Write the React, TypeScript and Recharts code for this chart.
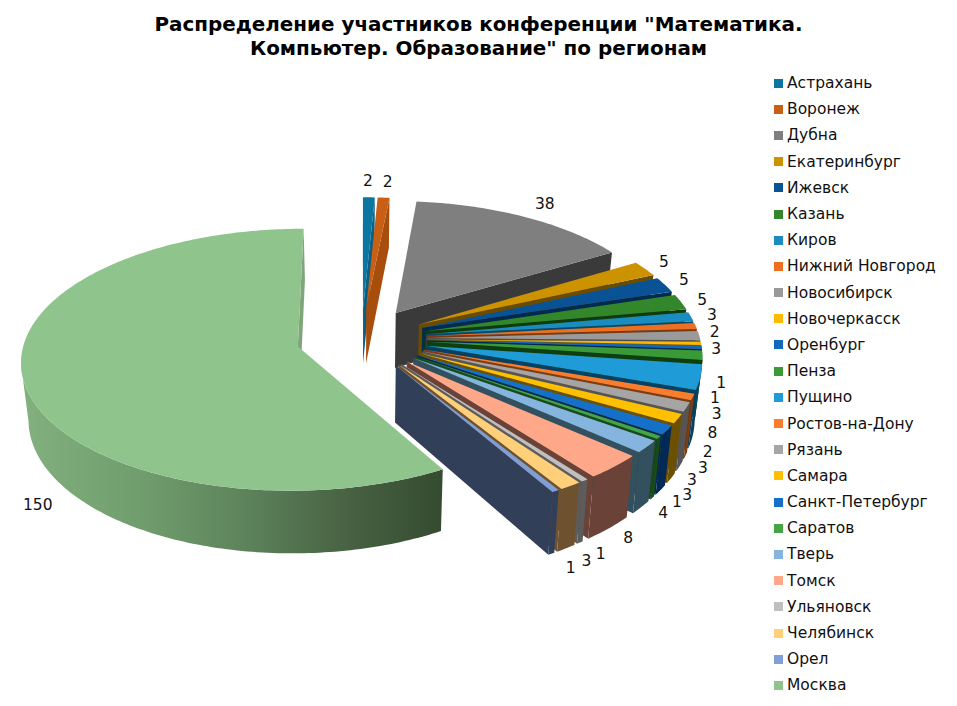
import { Cell, Legend, Pie, PieChart } from "recharts";

const regions = [
  "Астрахань", "Воронеж", "Дубна", "Екатеринбург", "Ижевск", "Казань", "Киров", "Нижний Новгород",
  "Новосибирск", "Новочеркасск", "Оренбург", "Пенза", "Пущино", "Ростов-на-Дону", "Рязань", "Самара",
  "Санкт-Петербург", "Саратов", "Тверь", "Томск", "Ульяновск", "Челябинск", "Орел", "Москва",
];
const participants = [2, 2, 38, 5, 5, 5, 3, 2, 3, 1, 1, 3, 8, 2, 3, 3, 3, 1, 4, 8, 1, 3, 1, 150];
const topColors = [
  "#0b76a0", "#c85f14", "#7f7f7f", "#cc9200", "#0a5296", "#33872a", "#1a8cc0", "#ed7020",
  "#9a9a9a", "#ffb900", "#1168bf", "#3a9a38", "#1f9bd8", "#fb7d2b", "#a5a5a5", "#ffc000",
  "#1470c8", "#45a545", "#85b5df", "#ffa789", "#bfbfbf", "#ffcf7a", "#7f9fd6", "#90c48d",
];
const wallColors = [
  "#0a5f82", "#a84e0d", "#3a3a3a", "#6a4c00", "#002a50", "#0f3c0a", "#07486a", "#7a3a10",
  "#4f4f4f", "#7a5800", "#002750", "#0f3f0c", "#084060", "#7e3c10", "#555555", "#6c5000",
  "#002a55", "#1a4a1a", "#33505f", "#6b4237", "#5c5c5c", "#6e5230", "#323f58", "#7ea67a",
];

const chartData = regions.map((name, i) => ({ name, value: participants[i] }));

// label placement relative to the slice's outer edge (Excel's placement isn't radial)
const labelNudge = [
  [-1, -16], [4, -16], [20, -13], [19, -7], [19, -5], [21, -2], [21, -2], [19, 6],
  [17, 13], [20, 40], [13, 51], [14, 59], [12, 56], [15, 55], [16, 61], [14, 61],
  [20, 65], [18, 64], [16, 66], [14, 71], [16, 74], [16, 75], [15, 77], [14, 124],
];

// 3D look: tilt + perspective + explode, all in units of the pie radius
const TILT = 0.469;
const PERSPECTIVE = 0.1;
const EXPLODE = 0.24;
const DEPTH = 56;
const BOTTOM_SHRINK = 0.978;

type Pt = { x: number; y: number };

function project(cx: number, cy: number, R: number, theta: number, mid: number, r: number): Pt & { p: number } {
  const u = r * Math.sin(theta) + EXPLODE * Math.sin(mid);
  const v = r * Math.cos(theta) + EXPLODE * Math.cos(mid);
  const p = 1 / (1 + PERSPECTIVE * v);
  return { x: cx + R * u * p, y: cy - R * TILT * v * p, p };
}

const toTheta = (deg: number) => ((90 - deg) * Math.PI) / 180;
const toPath = (pts: Pt[]) =>
  "M" + pts.map((q) => `${q.x.toFixed(2)},${q.y.toFixed(2)}`).join("L") + "Z";

function Slice3D(props: any) {
  const { cx, cy, outerRadius, startAngle, endAngle, index, fill } = props;
  const t0 = toTheta(startAngle);
  const t1 = toTheta(endAngle);
  const mid = (t0 + t1) / 2;
  const steps = Math.max(2, Math.ceil(Math.abs(endAngle - startAngle)));
  const arc: (Pt & { p: number })[] = [];
  for (let s = 0; s <= steps; s++) {
    arc.push(project(cx, cy, outerRadius, t0 + ((t1 - t0) * s) / steps, mid, 1));
  }
  const apex = project(cx, cy, outerRadius, mid, mid, 0);
  const drop = (q: Pt & { p: number }): Pt => ({
    x: cx + (q.x - cx) * BOTTOM_SHRINK,
    y: q.y + DEPTH * q.p,
  });
  const wall = wallColors[index];
  const first = arc[0];
  const last = arc[arc.length - 1];

  const front = arc.slice(1).map((q, i) => q.x < arc[i].x);
  const a = front.indexOf(true);
  const b = front.lastIndexOf(true);
  const arcWall = a >= 0 ? arc.slice(a, b + 2) : [];

  return (
    <g>
      {index === participants.length - 1 && (
        <defs>
          <linearGradient id="moscowWall" gradientUnits="userSpaceOnUse" x1={22} y1={0} x2={440} y2={0}>
            <stop offset="0%" stopColor="#82b07e" />
            <stop offset="30%" stopColor="#6f9c6c" />
            <stop offset="55%" stopColor="#5c815a" />
            <stop offset="80%" stopColor="#465f40" />
            <stop offset="100%" stopColor="#364c31" />
          </linearGradient>
        </defs>
      )}
      <path d={toPath([last, apex, drop(apex), drop(last)])} fill={wall} />
      {first.x < apex.x && <path d={toPath([apex, first, drop(first), drop(apex)])} fill={wall} />}
      {arcWall.length > 0 && (
        <path
          d={toPath([...arcWall, ...arcWall.map(drop).reverse()])}
          fill={index === participants.length - 1 ? "url(#moscowWall)" : wall}
        />
      )}
      <path d={toPath([apex, ...arc])} fill={fill} />
    </g>
  );
}

function ValueLabel(props: any) {
  const { cx, cy, outerRadius, midAngle, value, index } = props;
  const mid = toTheta(midAngle);
  const at = project(cx, cy, outerRadius, mid, mid, 1);
  const [dx, dy] = labelNudge[index];
  return (
    <text
      x={at.x + dx}
      y={at.y + dy}
      textAnchor="middle"
      dominantBaseline="central"
      fontFamily="'DejaVu Sans'"
      fontSize={15.5}
      fill="#111"
    >
      {value}
    </text>
  );
}

function RegionLegend({ payload }: any) {
  return (
    <div style={{ fontFamily: "'DejaVu Sans'", fontSize: 15.5, color: "#111" }}>
      {(payload || []).map((entry: any) => (
        <div key={entry.value} style={{ height: 26.2, display: "flex", alignItems: "center" }}>
          <span style={{ width: 9, height: 9, background: entry.color, marginRight: 4 }} />
          <span style={{ whiteSpace: "nowrap" }}>{entry.value}</span>
        </div>
      ))}
    </div>
  );
}

export default function App() {
  return (
    <div style={{ position: "absolute", left: 0, top: 0, width: 957, height: 706, background: "#fff" }}>
      <div
        style={{
          position: "absolute",
          left: 0,
          top: 13,
          width: 957,
          textAlign: "center",
          fontFamily: "'DejaVu Sans'",
          fontWeight: "bold",
          fontSize: 19.9,
          lineHeight: "24px",
          color: "#000",
        }}
      >
        Распределение участников конференции "Математика.
        <br />
        Компьютер. Образование" по регионам
      </div>
      <PieChart width={957} height={706} margin={{ top: 0, right: 0, bottom: 0, left: 0 }}>
        <Pie
          data={chartData}
          dataKey="value"
          nameKey="name"
          cx={361.5}
          cy={338.5}
          outerRadius={273}
          startAngle={90}
          endAngle={-270}
          stroke="none"
          shape={Slice3D}
          label={ValueLabel}
          labelLine={false}
          isAnimationActive={false}
        >
          {chartData.map((d, i) => (
            <Cell key={d.name} fill={topColors[i]} />
          ))}
        </Pie>
        <Legend
          layout="vertical"
          itemSorter={null}
          content={RegionLegend}
          wrapperStyle={{ position: "absolute", left: 774, top: 70, width: 180 }}
        />
      </PieChart>
    </div>
  );
}
